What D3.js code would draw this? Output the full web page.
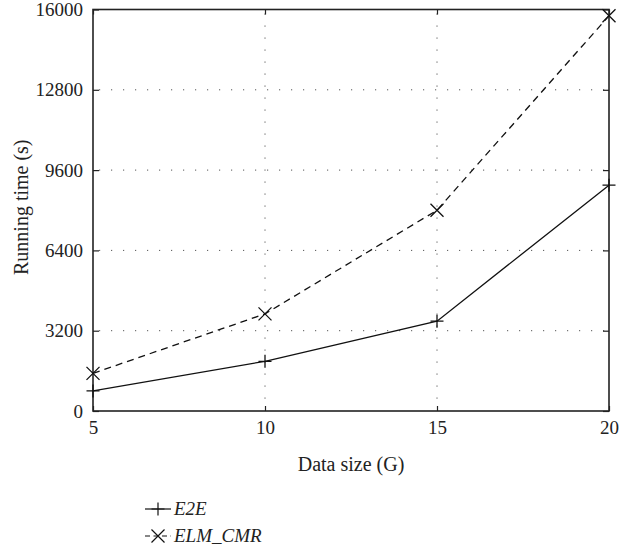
<!DOCTYPE html>
<meta charset="utf-8">
<style>
body { margin: 0; background: white; }
text { font-family: "Liberation Serif", "DejaVu Serif", serif; fill: #222; }
.grid line { stroke: #555; stroke-width: 1; stroke-dasharray: 1.2,10.8; }
</style>
<body>
<script src="https://d3js.org/d3.v7.min.js"></script>
<script>

const width = 638
const height = 552

// data
const sizes = [5, 10, 15, 20]
const e2e = [800, 1980, 3580, 9000]
const elmCmr = [1500, 3870, 8000, 15750]
const yTicks = [0, 3200, 6400, 9600, 12800, 16000]
const seriesNames = ['E2E', 'ELM_CMR']

const margin = {left: 93, right: 29, top: 9.5, bottom: 141}

const svg = d3.select('body').append('svg')
  .attr('width', width)
  .attr('height', height)

const x = d3.scaleLinear().domain([5, 20]).range([margin.left, width - margin.right])
const y = d3.scaleLinear().domain([0, 16000]).range([height - margin.bottom, margin.top])

// dotted grid
const grid = svg.append('g').attr('class', 'grid')
grid.selectAll('.gy')
  .data(yTicks.slice(1, -1))
  .join('line')
  .attr('x1', x(5) + 6).attr('x2', x(20) - 4)
  .attr('y1', d => y(d)).attr('y2', d => y(d))
grid.selectAll('.gx')
  .data(sizes.slice(1, -1))
  .join('line')
  .attr('class', 'gx')
  .attr('y1', y(16000) + 4).attr('y2', y(0) - 2)
  .attr('x1', d => x(d)).attr('x2', d => x(d))

// axes with inward ticks
const axisStyle = g => {
  g.select('.domain').remove()
  g.selectAll('.tick line').attr('stroke', '#222').attr('stroke-width', 1.2)
  g.selectAll('.tick text').style('font-size', '19px').attr('fill', '#222')
}
svg.append('g')
  .attr('transform', `translate(${margin.left},0)`)
  .call(d3.axisLeft(y).tickValues(yTicks).tickFormat(d3.format('d')).tickSizeInner(-6).tickPadding(10))
  .call(axisStyle)
svg.append('g')
  .attr('transform', `translate(${width - margin.right},0)`)
  .call(d3.axisRight(y).tickValues(yTicks).tickFormat('').tickSizeInner(-6))
  .call(axisStyle)
svg.append('g')
  .attr('transform', `translate(0,${y(0)})`)
  .call(d3.axisBottom(x).tickValues(sizes).tickSizeInner(-5).tickPadding(10))
  .call(axisStyle)
svg.append('g')
  .attr('transform', `translate(0,${y(16000)})`)
  .call(d3.axisTop(x).tickValues(sizes).tickFormat('').tickSizeInner(-5))
  .call(axisStyle)

// frame
svg.append('rect')
  .attr('x', x(5)).attr('y', y(16000))
  .attr('width', x(20) - x(5)).attr('height', y(0) - y(16000))
  .attr('fill', 'none').attr('stroke', '#222').attr('stroke-width', 1.6)

// axis titles
svg.append('text')
  .attr('x', x(12.5)).attr('y', 471)
  .attr('text-anchor', 'middle')
  .style('font-size', '20px')
  .text('Data size (G)')
svg.append('text')
  .attr('transform', `translate(28,${y(8000) - 3}) rotate(-90)`)
  .attr('text-anchor', 'middle')
  .style('font-size', '20px')
  .text('Running time (s)')

const line = d3.line().x((d, i) => x(sizes[i])).y(d => y(d))

function plus(sel, s) {
  sel.append('path').attr('d', `M${-s},0H${s}M0,${-s}V${s}`)
}
function cross(sel, s) {
  sel.append('path').attr('d', `M${-s},${-s}L${s},${s}M${-s},${s}L${s},${-s}`)
}

const series = [
  {vals: e2e, dash: null, mark: plus},
  {vals: elmCmr, dash: '7,5', mark: cross}
]

series.forEach((s, k) => {
  svg.append('path')
    .datum(s.vals)
    .attr('d', line)
    .attr('fill', 'none')
    .attr('stroke', '#111')
    .attr('stroke-width', 1.3)
    .attr('stroke-dasharray', s.dash)
  svg.append('g').selectAll('g')
    .data(s.vals)
    .join('g')
    .attr('transform', (d, i) => `translate(${x(sizes[i])},${y(d)})`)
    .attr('stroke', '#111')
    .attr('stroke-width', 1.3)
    .each(function () { s.mark(d3.select(this), 6.5) })

  // legend entry
  const ly = 509 + k * 27
  svg.append('line')
    .attr('x1', 145).attr('x2', 171).attr('y1', ly).attr('y2', ly)
    .attr('stroke', '#111').attr('stroke-width', 1.2)
    .attr('stroke-dasharray', s.dash ? '5,3.5' : null)
  const lg = svg.append('g')
    .attr('transform', `translate(158,${ly})`)
    .attr('stroke', '#111').attr('stroke-width', 1.2)
  s.mark(lg, 6.5)
  svg.append('text')
    .attr('x', 174).attr('y', ly + 6)
    .style('font-size', '19px')
    .style('font-style', 'italic')
    .text(seriesNames[k])
})

</script>
</body>
</html>
